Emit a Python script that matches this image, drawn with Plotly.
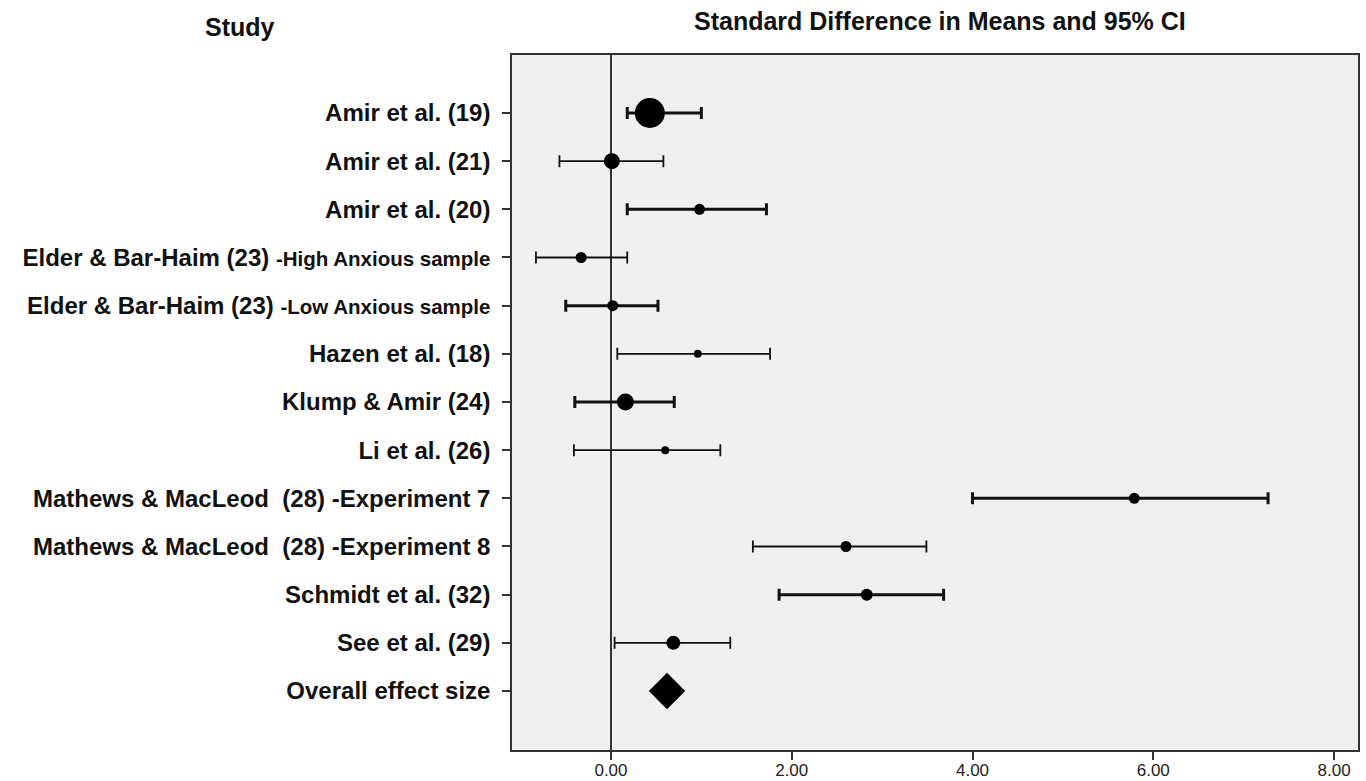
import plotly.graph_objects as go

studies = [
    "Amir et al. (19)",
    "Amir et al. (21)",
    "Amir et al. (20)",
    "Elder & Bar-Haim (23) <span style='font-size:20.5px'>-High Anxious sample</span>",
    "Elder & Bar-Haim (23) <span style='font-size:20.5px'>-Low Anxious sample</span>",
    "Hazen et al. (18)",
    "Klump & Amir (24)",
    "Li et al. (26)",
    "Mathews & MacLeod  (28) -Experiment 7",
    "Mathews & MacLeod  (28) -Experiment 8",
    "Schmidt et al. (32)",
    "See et al. (29)",
    "Overall effect size",
]
smd = [0.43, 0.01, 0.98, -0.33, 0.02, 0.96, 0.16, 0.60, 5.79, 2.60, 2.83, 0.69]
ci_low = [0.18, -0.57, 0.18, -0.83, -0.50, 0.07, -0.40, -0.41, 4.00, 1.57, 1.86, 0.04]
ci_high = [1.00, 0.58, 1.72, 0.18, 0.52, 1.76, 0.70, 1.21, 7.27, 3.49, 3.68, 1.32]
weight_size = [30, 16, 11, 11, 11, 8, 17, 8, 11, 11, 12, 14]
thick_line = [True, False, True, False, True, False, True, False, True, False, True, False]
overall_effect = 0.62

fig = go.Figure()

for i in range(len(smd)):
    fig.add_trace(go.Scatter(
        x=[smd[i]], y=[i],
        mode="markers",
        marker=dict(color="black", size=weight_size[i], line=dict(width=0)),
        error_x=dict(
            type="data", symmetric=False,
            array=[ci_high[i] - smd[i]], arrayminus=[smd[i] - ci_low[i]],
            color="#111111", thickness=3 if thick_line[i] else 1.8, width=6,
        ),
        showlegend=False, hoverinfo="skip",
    ))

fig.add_trace(go.Scatter(
    x=[overall_effect], y=[len(studies) - 1],
    mode="markers",
    marker=dict(symbol="diamond", color="black", size=28, line=dict(width=0)),
    showlegend=False, hoverinfo="skip",
))

plot_w = 1358 - 512
plot_h = 750 - 55
fig.update_layout(
    width=1366, height=781,
    margin=dict(l=512, r=8, t=55, b=31, autoexpand=False),
    paper_bgcolor="white",
    plot_bgcolor="#f0f0f0",
    font=dict(family="Liberation Sans, Arial, sans-serif", color="#111111"),
    xaxis=dict(
        range=[-1.095, 8.265],
        tickvals=[0, 2, 4, 6, 8],
        tickformat=".2f",
        automargin=False,
        ticks="outside", ticklen=8, tickwidth=1.5, tickcolor="#333333",
        tickfont=dict(size=17, color="#222222"),
        ticklabelstandoff=-4,
        showgrid=False,
        zeroline=True, zerolinecolor="#333333", zerolinewidth=2,
        showline=True, linecolor="#333333", linewidth=1.5, mirror=True,
    ),
    yaxis=dict(
        range=[13.225, -1.204],
        tickvals=list(range(len(studies))),
        ticktext=["<b>" + s + "</b>" for s in studies],
        automargin=False,
        ticks="outside", ticklen=8, tickwidth=1.5, tickcolor="#333333",
        tickfont=dict(size=24, color="#111111"),
        ticklabelstandoff=7,
        showgrid=False, zeroline=False,
        showline=True, linecolor="#333333", linewidth=1.5, mirror=True,
    ),
    annotations=[
        dict(text="<b>Study</b>", xref="paper", yref="paper",
             x=(240 - 512) / plot_w, y=(750 - 27) / plot_h,
             xanchor="center", yanchor="middle", showarrow=False,
             font=dict(size=25, color="#111111")),
        dict(text="<b>Standard Difference in Means and 95% CI</b>", xref="paper", yref="paper",
             x=(940 - 512) / plot_w, y=(750 - 21) / plot_h,
             xanchor="center", yanchor="middle", showarrow=False,
             font=dict(size=25, color="#111111")),
    ],
)

# remove the default page margin so the figure fills the window exactly
fig.write_html(
    "out.html",
    config={"displayModeBar": False},
    post_script="document.body.style.margin='0';document.body.style.overflow='hidden';",
)
